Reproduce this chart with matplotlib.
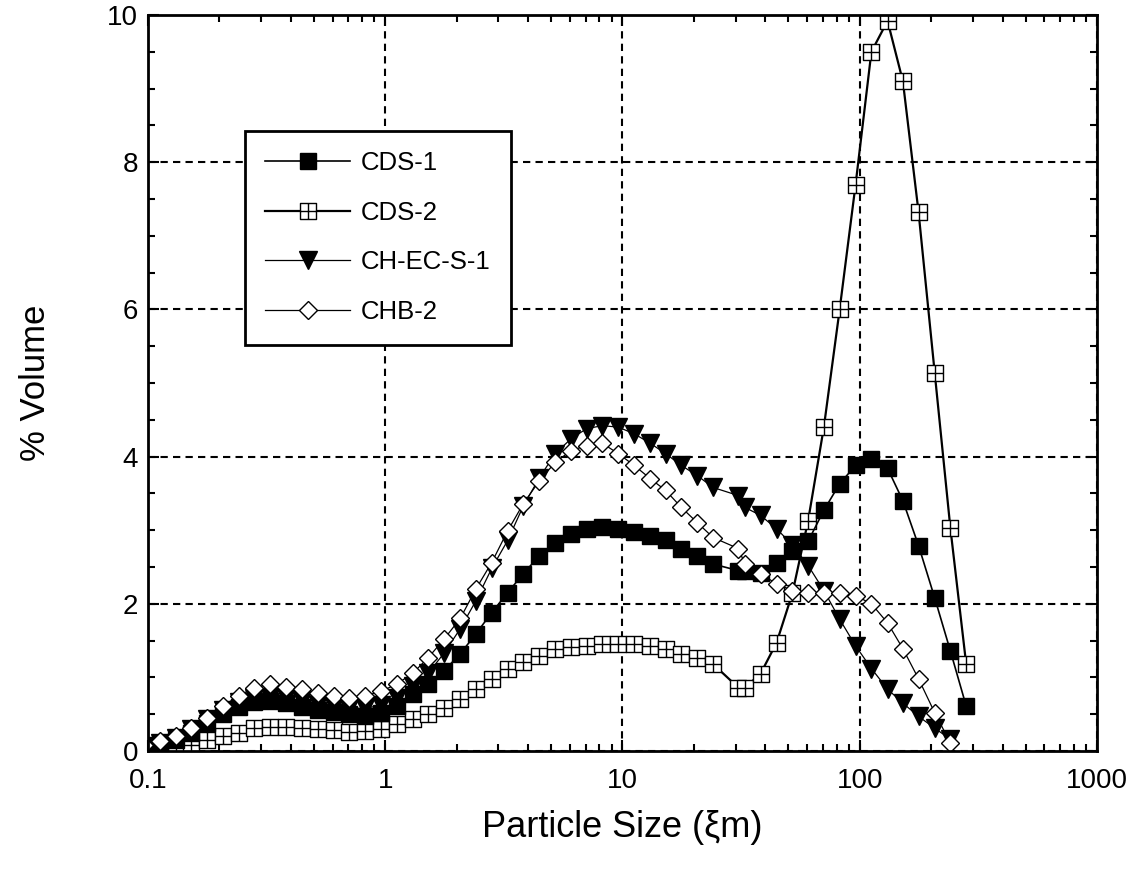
import numpy as np
import matplotlib
matplotlib.use('Agg')
import matplotlib.pyplot as plt
from matplotlib.path import Path
from matplotlib.ticker import FixedLocator, MultipleLocator, FuncFormatter, LogLocator

plt.rcParams['font.family'] = ['Liberation Sans', 'DejaVu Sans']

# particle size bins (um)
sizes = [0.096, 0.112, 0.131, 0.152, 0.177, 0.207, 0.241, 0.281, 0.328, 0.382,
         0.446, 0.520, 0.606, 0.706, 0.823, 0.960, 1.12, 1.31, 1.52, 1.77,
         2.07, 2.41, 2.81, 3.28, 3.82, 4.46, 5.20, 6.06, 7.06, 8.23,
         9.60, 11.2, 13.1, 15.2, 17.7, 20.7, 24.1, 30.8, 32.8, 38.2,
         44.6, 52.0, 60.6, 70.6, 82.3, 96.0, 112, 131, 152, 177,
         207, 241, 281]

nan = np.nan
cds1 = [0.05, 0.09, 0.15, 0.25, 0.38, 0.50, 0.60, 0.66, 0.68, 0.65,
        0.60, 0.56, 0.53, 0.50, 0.48, 0.52, 0.61, 0.77, 0.91, 1.09,
        1.32, 1.59, 1.88, 2.15, 2.41, 2.65, 2.82, 2.95, 3.02, 3.04,
        3.02, 2.97, 2.92, 2.86, 2.75, 2.65, 2.54, 2.45, 2.44, 2.42,
        2.56, 2.72, 2.85, 3.27, 3.63, 3.88, 3.97, 3.84, 3.40, 2.79,
        2.08, 1.36, 0.61]
cds2 = [0.02, 0.03, 0.05, 0.08, 0.15, 0.20, 0.25, 0.31, 0.33, 0.32,
        0.31, 0.30, 0.28, 0.26, 0.27, 0.30, 0.37, 0.44, 0.50, 0.59,
        0.71, 0.84, 0.98, 1.12, 1.21, 1.29, 1.38, 1.41, 1.43, 1.46,
        1.46, 1.46, 1.43, 1.39, 1.32, 1.27, 1.18, 0.86, 0.86, 1.05,
        1.47, 2.14, 3.13, 4.40, 6.00, 7.69, 9.50, 9.92, 9.10, 7.32,
        5.14, 3.03, 1.18]
chec = [0.07, 0.11, 0.18, 0.30, 0.44, 0.56, 0.66, 0.72, 0.74, 0.72,
        0.68, 0.63, 0.60, 0.58, 0.58, 0.62, 0.72, 0.88, 1.06, 1.33,
        1.66, 2.04, 2.48, 2.86, 3.33, 3.71, 4.04, 4.24, 4.38, 4.42,
        4.40, 4.31, 4.18, 4.04, 3.88, 3.74, 3.58, 3.47, 3.31, 3.20,
        3.02, 2.80, 2.52, 2.18, 1.79, 1.43, 1.12, 0.84, 0.65, 0.47,
        0.31, 0.16, nan]
chb2 = [0.08, 0.14, 0.20, 0.31, 0.45, 0.61, 0.75, 0.86, 0.91, 0.87,
        0.84, 0.79, 0.75, 0.72, 0.75, 0.81, 0.91, 1.06, 1.27, 1.52,
        1.80, 2.20, 2.56, 2.99, 3.36, 3.67, 3.92, 4.08, 4.15, 4.18,
        4.04, 3.88, 3.70, 3.54, 3.31, 3.10, 2.90, 2.75, 2.54, 2.41,
        2.27, 2.18, 2.15, 2.15, 2.15, 2.11, 2.00, 1.74, 1.39, 0.98,
        0.52, 0.11, nan]

x_ticks = [0.1, 1, 10, 100, 1000]
x_labels = ['0.1', '1', '10', '100', '1000']

# square with a cross inside, for CDS-2
grid_sq = Path([(-1, -1), (1, -1), (1, 1), (-1, 1), (-1, -1),
                (0, -1), (0, 1), (-1, 0), (1, 0)],
               [Path.MOVETO, Path.LINETO, Path.LINETO, Path.LINETO, Path.CLOSEPOLY,
                Path.MOVETO, Path.LINETO, Path.MOVETO, Path.LINETO])


def series(y):
    x = np.array(sizes)
    y = np.array(y, dtype=float)
    m = ~np.isnan(y)
    return x[m], y[m]


fig = plt.figure(figsize=(11.35, 8.71), dpi=100)
ax = fig.add_axes([0.1304, 0.1378, 0.8361, 0.845])

x, y = series(cds2)
h2, = ax.plot(x, y, color='black', lw=1.6, marker=grid_sq, ms=11,
              mfc='white', mec='black', mew=1.0, label='CDS-2')
x, y = series(cds1)
h1, = ax.plot(x, y, color='black', lw=1.2, marker='s', ms=12,
              mfc='black', mec='black', label='CDS-1')
x, y = series(chec)
h3, = ax.plot(x, y, color='black', lw=0.9, marker='v', ms=12.5,
              mfc='black', mec='black', label='CH-EC-S-1')
x, y = series(chb2)
h4, = ax.plot(x, y, color='black', lw=0.9, marker='D', ms=9.6,
              mfc='white', mec='black', mew=1.0, label='CHB-2')

ax.set_xscale('log')
ax.set_xlim(0.1, 1000)
ax.set_ylim(0, 10)
ax.xaxis.set_major_locator(FixedLocator(x_ticks))
ax.xaxis.set_major_formatter(FuncFormatter(lambda v, p: x_labels[x_ticks.index(v)] if v in x_ticks else ''))
ax.xaxis.set_minor_locator(LogLocator(base=10, subs=np.arange(2, 10), numticks=20))
ax.yaxis.set_major_locator(MultipleLocator(2))
ax.yaxis.set_minor_locator(MultipleLocator(0.5))

ax.tick_params(which='both', direction='in', top=True, right=True, width=1.5, colors='black')
ax.tick_params(which='major', length=8, labelsize=20)
ax.tick_params(axis='x', which='major', pad=12)
ax.tick_params(axis='y', which='major', pad=7)
ax.tick_params(which='minor', length=5)
for s in ax.spines.values():
    s.set_linewidth(2)

ax.grid(True, which='major', color='black', ls=(0, (3.5, 2.5)), lw=1.5)

ax.set_xlabel('Particle Size (ξm)', fontsize=26, labelpad=12)
ax.set_ylabel('% Volume', fontsize=25, labelpad=40)

leg = ax.legend(handles=[h1, h2, h3, h4], loc='upper left', bbox_to_anchor=(0.102, 0.843),
                borderaxespad=0, fontsize=18.5, frameon=True, fancybox=False,
                edgecolor='black', handlelength=3.3, handletextpad=0.4,
                borderpad=0.8, labelspacing=1.0)
leg.get_frame().set_linewidth(2)
leg.get_frame().set_alpha(1)

fig.savefig('out.png', dpi=100)
